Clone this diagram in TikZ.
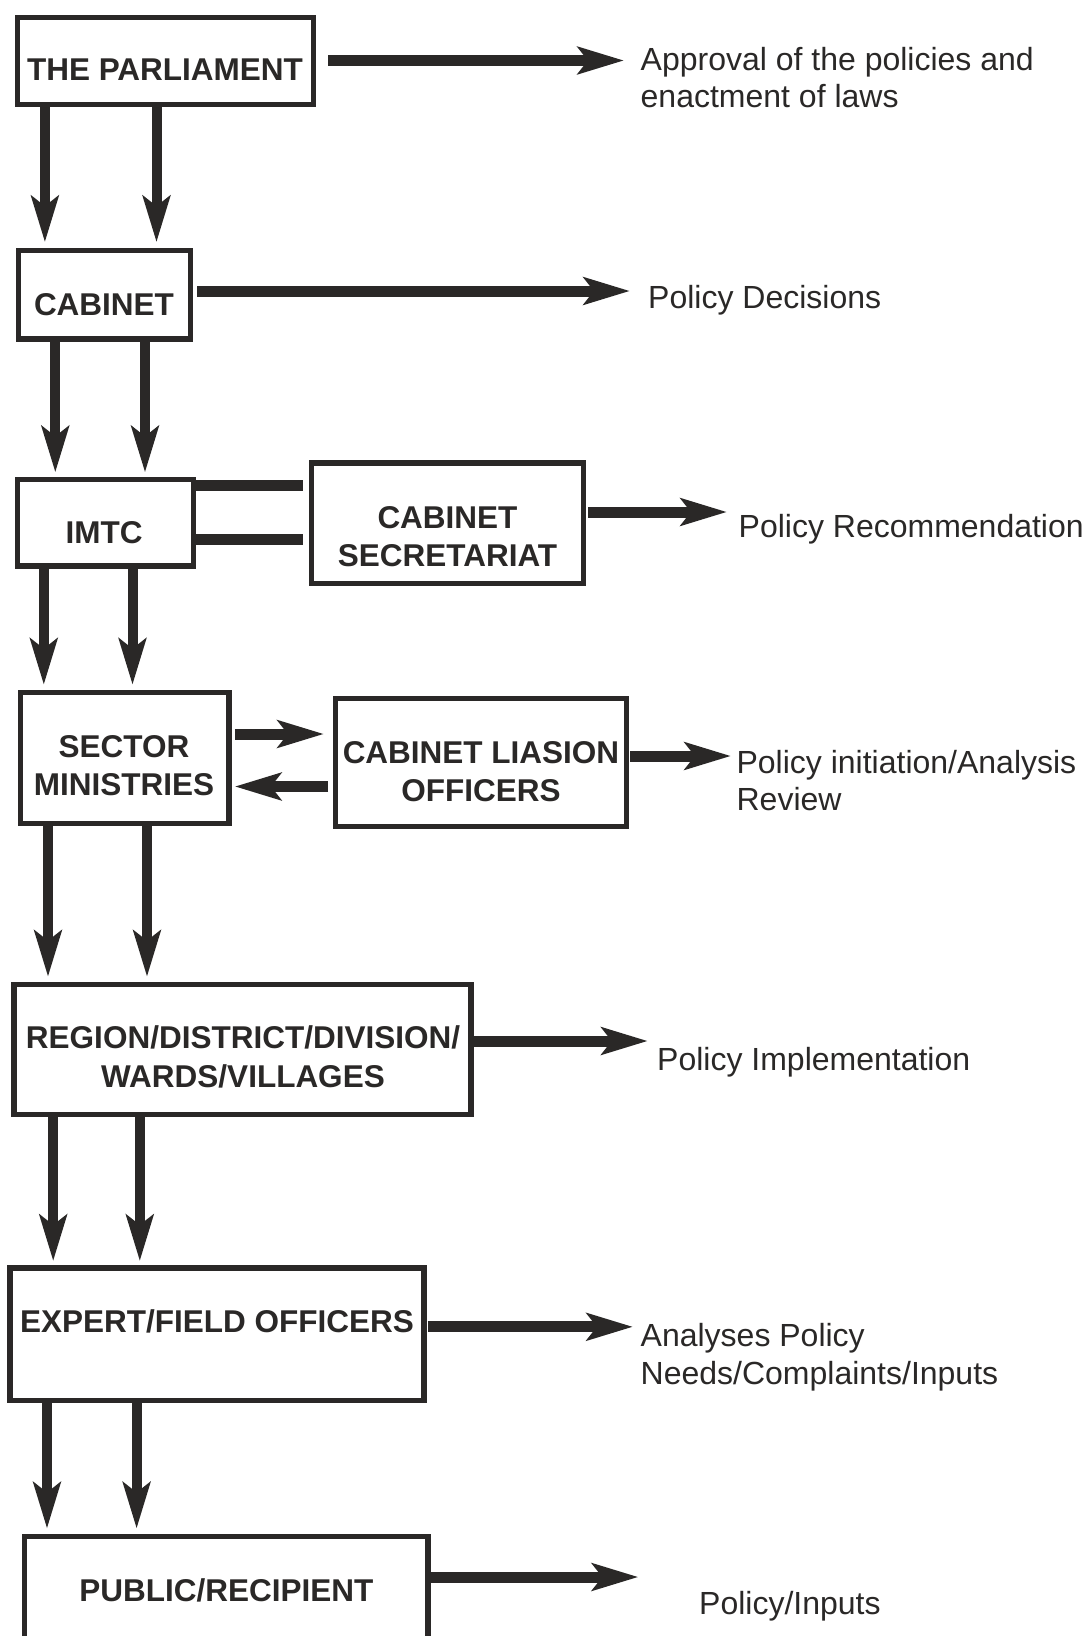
\documentclass[tikz,border=0pt]{standalone}
\usepackage{fontspec}
\setmainfont{Liberation Sans}
\usetikzlibrary{arrows.meta}
\definecolor{ink}{RGB}{42,40,39}
\begin{document}
\begin{tikzpicture}[x=1pt,y=-1pt,
  box/.style={draw=ink, line width=5.5pt, inner sep=0pt, outer sep=0pt, fill=white},
  boxlbl/.style={font=\fontsize{31.5}{38.5}\selectfont\bfseries, text=ink, align=center, inner sep=0pt},
  note/.style={font=\fontsize{32}{37.6}\selectfont, text=ink, align=left, inner sep=0pt},
  flow/.style={draw=ink, line width=10pt, -{Stealth[length=46pt,width=27pt,inset=10pt]}},
  hflow/.style={flow, line width=11pt},
  bar/.style={draw=ink, line width=11pt},
]
\clip (0,0) rectangle (1088,1636);
\fill[white] (0,0) rectangle (1088,1636);

% boxes
\node[box, minimum width=296pt, minimum height=87.3pt] (parl) at (165.3,61) {};
\node[box, minimum width=172pt, minimum height=88.5pt] (cab) at (104.3,294.5) {};
\node[box, minimum width=176pt, minimum height=86.3pt] (imtc) at (105.3,522.6) {};
\node[box, minimum width=271.7pt, minimum height=120.5pt] (cs) at (447.4,523) {};
\node[box, minimum width=208.4pt, minimum height=131pt] (sec) at (124.6,757.8) {};
\node[box, minimum width=290.7pt, minimum height=127.8pt] (clo) at (480.9,762.4) {};
\node[box, minimum width=456.6pt, minimum height=130pt] (reg) at (242.5,1049.3) {};
\node[box, minimum width=413.8pt, minimum height=132.2pt] (exp) at (217,1334.2) {};
\node[box, minimum width=403.4pt, minimum height=123.4pt] (pub) at (226.4,1598.3) {};

% box labels
\node[boxlbl] (parlL) at (165,70) {THE PARLIAMENT};
\node[boxlbl] (cabL) at (104,304.6) {CABINET};
\node[boxlbl] (imtcL) at (104,533) {IMTC};
\node[boxlbl] (csL) at (447.5,536.7) {CABINET\\SECRETARIAT};
\node[boxlbl] (secL) at (124,765.7) {SECTOR\\MINISTRIES};
\node[boxlbl] (cloL) at (481,771.4) {CABINET LIASION\\OFFICERS};
\node[boxlbl] (regL) at (243,1057) {REGION/DISTRICT/DIVISION/\\WARDS/VILLAGES};
\node[boxlbl] (expL) at (217,1321.6) {EXPERT/FIELD OFFICERS};
\node[boxlbl] (pubL) at (226.4,1590.7) {PUBLIC/RECIPIENT};

% notes
\node[note, anchor=north west] (n1) at (640.5,46.7) {Approval of the policies and\\enactment of laws};
\node[note, anchor=base west] (n2) at (648,308.8) {Policy Decisions};
\node[note, anchor=base west] (n3) at (738.5,537.2) {Policy Recommendation};
\node[note, anchor=north west] (n4) at (736.4,749.7) {Policy initiation/Analysis\\Review};
\node[note, anchor=base west] (n5) at (657,1070.3) {Policy Implementation};
\node[note, anchor=north west] (n6) at (640.5,1323.2) {Analyses Policy\\Needs/Complaints/Inputs};
\node[note, anchor=base west] (n7) at (699,1614.5) {Policy/Inputs};

% tips of horizontal arrows
\coordinate (h1) at (624,60.5);
\coordinate (h2) at (630,291);
\coordinate (h3) at (727,512);
\coordinate (h4) at (731,756);
\coordinate (h5) at (647.8,1041);
\coordinate (h6) at (633,1326.8);
\coordinate (h7) at (638.4,1577);

\draw[hflow] ([xshift=15pt]parl.east |- h1) -- (h1);
\draw[hflow] ([xshift=7pt]cab.east |- h2) -- (h2);
\draw[hflow] ([xshift=5pt]cs.east |- h3) -- (h3);
\draw[hflow] ([xshift=4pt]clo.east |- h4) -- (h4);
\draw[hflow] ([xshift=3pt]reg.east |- h5) -- (h5);
\draw[hflow] ([xshift=4pt]exp.east |- h6) -- (h6);
\draw[hflow] ([xshift=2.5pt]pub.east |- h7) -- (h7);

% vertical arrow columns
\coordinate (a1) at (44.9,0);  \coordinate (a2) at (156.5,0);
\coordinate (b1) at (55.3,0);  \coordinate (b2) at (145,0);
\coordinate (c1) at (43.8,0);  \coordinate (c2) at (132.5,0);
\coordinate (d1) at (48,0);    \coordinate (d2) at (147,0);
\coordinate (e1) at (53.2,0);  \coordinate (e2) at (139.8,0);
\coordinate (f1) at (47,0);    \coordinate (f2) at (136.6,0);

\draw[flow] (parl.south -| a1) -- ([yshift=8pt]cab.north -| a1);
\draw[flow] (parl.south -| a2) -- ([yshift=8pt]cab.north -| a2);
\draw[flow] (cab.south -| b1) -- ([yshift=7pt]imtc.north -| b1);
\draw[flow] (cab.south -| b2) -- ([yshift=7pt]imtc.north -| b2);
\draw[flow] (imtc.south -| c1) -- ([yshift=7.5pt]sec.north -| c1);
\draw[flow] (imtc.south -| c2) -- ([yshift=7.5pt]sec.north -| c2);
\draw[flow] (sec.south -| d1) -- ([yshift=7.5pt]reg.north -| d1);
\draw[flow] (sec.south -| d2) -- ([yshift=7.5pt]reg.north -| d2);
\draw[flow] (reg.south -| e1) -- ([yshift=7pt]exp.north -| e1);
\draw[flow] (reg.south -| e2) -- ([yshift=7pt]exp.north -| e2);
\draw[flow] (exp.south -| f1) -- ([yshift=8pt]pub.north -| f1);
\draw[flow] (exp.south -| f2) -- ([yshift=8pt]pub.north -| f2);

% IMTC -- Cabinet Secretariat bars
\coordinate (g1) at (0,485);
\coordinate (g2) at (0,539);
\draw[bar] ([xshift=2pt]imtc.east |- g1) -- ([xshift=-8.5pt]cs.west |- g1);
\draw[bar] ([xshift=2pt]imtc.east |- g2) -- ([xshift=-8.5pt]cs.west |- g2);

% Sector <-> CLO arrows
\coordinate (r1) at (0,734);
\coordinate (r2) at (0,786.5);
\draw[hflow] ([xshift=6pt]sec.east |- r1) -- ([xshift=-11.6pt]clo.west |- r1);
\draw[hflow] ([xshift=-7.5pt]clo.west |- r2) -- ([xshift=6pt]sec.east |- r2);
\end{tikzpicture}
\end{document}
